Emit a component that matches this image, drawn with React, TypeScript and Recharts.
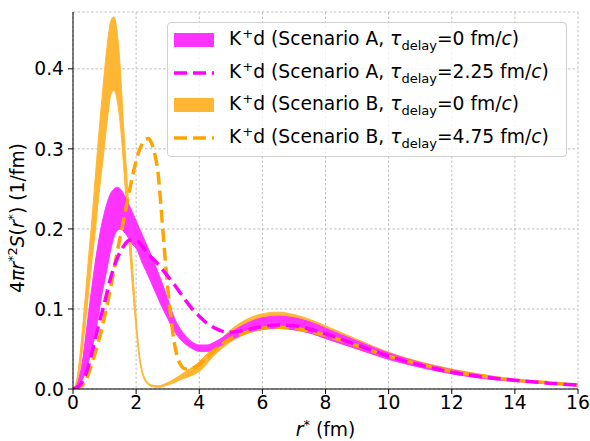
import React from "react";
import { ComposedChart, Area, Line, XAxis, YAxis, CartesianGrid } from "recharts";

const xTicks = [0, 2, 4, 6, 8, 10, 12, 14, 16];
const yTicks = [0, 0.1, 0.2, 0.3, 0.4];

// Scenario A, tau_delay = 0 (band)
const bandAX = [
  0, 0.1, 0.2, 0.3, 0.4, 0.5, 0.6, 0.7, 0.8, 0.9, 1.0, 1.1, 1.2, 1.3, 1.4, 1.5, 1.6, 1.7, 1.8, 1.9, 2.0,
  2.2, 2.4, 2.6, 2.8, 3.0, 3.2, 3.4, 3.6, 3.8, 4.0, 4.25, 4.5, 5, 5.5, 6, 6.5, 7, 7.5, 8, 9, 10, 11, 12, 13, 14, 15, 16,
];
const bandAHigh = [
  0, 0.003, 0.015, 0.035, 0.065, 0.097, 0.128, 0.157, 0.182, 0.204, 0.221, 0.235, 0.245, 0.25, 0.252, 0.25, 0.244, 0.236, 0.228, 0.219, 0.21,
  0.192, 0.174, 0.155, 0.135, 0.113, 0.09, 0.075, 0.065, 0.058, 0.055, 0.055, 0.059, 0.071, 0.082, 0.089, 0.091, 0.089, 0.084, 0.076, 0.06, 0.045, 0.033, 0.024, 0.017, 0.012, 0.008, 0.0055,
];
const bandALow = [
  0, 0.001, 0.005, 0.012, 0.022, 0.035, 0.05, 0.068, 0.09, 0.115, 0.135, 0.155, 0.175, 0.19, 0.198, 0.2, 0.197, 0.192, 0.186, 0.18, 0.176,
  0.157, 0.14, 0.122, 0.104, 0.088, 0.073, 0.062, 0.055, 0.05, 0.047, 0.047, 0.051, 0.061, 0.07, 0.075, 0.076, 0.074, 0.07, 0.063, 0.05, 0.037, 0.027, 0.019, 0.013, 0.0095, 0.0065, 0.004,
];

// Scenario B, tau_delay = 0 (band)
const bandBX = [
  0, 0.1, 0.2, 0.3, 0.4, 0.5, 0.6, 0.7, 0.8, 0.9, 1.0, 1.1, 1.2, 1.3, 1.4, 1.5, 1.6, 1.7, 1.8, 1.9, 2.0, 2.1, 2.2, 2.3, 2.4, 2.5,
  2.7, 3.0, 3.5, 4, 4.5, 5, 5.5, 6, 6.5, 7, 7.5, 8, 9, 10, 11, 12, 13, 14, 15, 16,
];
const bandBHigh = [
  0, 0.008, 0.035, 0.075, 0.12, 0.168, 0.212, 0.262, 0.31, 0.355, 0.398, 0.435, 0.46, 0.465, 0.445, 0.4, 0.33, 0.27, 0.205, 0.145, 0.09, 0.045, 0.022, 0.012, 0.007, 0.005,
  0.004, 0.008, 0.02, 0.034, 0.055, 0.074, 0.087, 0.094, 0.096, 0.093, 0.087, 0.079, 0.062, 0.046, 0.034, 0.025, 0.018, 0.012, 0.008, 0.006,
];
const bandBLow = [
  0, 0.004, 0.02, 0.05, 0.085, 0.122, 0.16, 0.195, 0.235, 0.27, 0.305, 0.34, 0.368, 0.373, 0.36, 0.33, 0.28, 0.225, 0.17, 0.12, 0.075, 0.038, 0.018, 0.009, 0.005, 0.003,
  0.002, 0.005, 0.013, 0.022, 0.043, 0.059, 0.069, 0.074, 0.076, 0.074, 0.07, 0.064, 0.051, 0.038, 0.028, 0.02, 0.014, 0.01, 0.007, 0.004,
];

// Scenario A, tau_delay = 2.25 fm/c (dashed)
const lineAX = [
  0, 0.2, 0.4, 0.6, 0.8, 1.0, 1.2, 1.4, 1.6, 1.8, 2.0, 2.2, 2.4, 2.6, 2.8, 3.0, 3.2, 3.4, 3.6, 3.8, 4.0,
  4.25, 4.5, 4.75, 5, 5.5, 6, 6.5, 7, 7.5, 8, 9, 10, 11, 12, 13, 14, 15, 16,
];
const lineAY = [
  0, 0.004, 0.018, 0.045, 0.078, 0.108, 0.14, 0.163, 0.178, 0.186, 0.186, 0.178, 0.168, 0.16, 0.151, 0.141, 0.131, 0.12, 0.109, 0.099, 0.091,
  0.082, 0.076, 0.072, 0.071, 0.074, 0.078, 0.08, 0.079, 0.075, 0.069, 0.055, 0.041, 0.03, 0.021, 0.015, 0.011, 0.0075, 0.005,
];

// Scenario B, tau_delay = 4.75 fm/c (dashed)
const lineBX = [
  0, 0.2, 0.4, 0.6, 0.8, 1.0, 1.2, 1.4, 1.6, 1.8, 2.0, 2.1, 2.2, 2.3, 2.4, 2.5, 2.6, 2.7, 2.8, 2.9, 3.0, 3.1, 3.2, 3.3, 3.4, 3.5, 3.6, 3.8, 4.0,
  4.25, 4.5, 4.75, 5, 5.5, 6, 6.5, 7, 7.5, 8, 9, 10, 11, 12, 13, 14, 15, 16,
];
const lineBY = [
  0, 0.002, 0.01, 0.032, 0.058, 0.09, 0.128, 0.171, 0.21, 0.25, 0.285, 0.298, 0.307, 0.312, 0.313, 0.306, 0.292, 0.268, 0.222, 0.172, 0.128, 0.09, 0.06, 0.041, 0.031, 0.026, 0.025, 0.026, 0.031,
  0.04, 0.049, 0.057, 0.063, 0.071, 0.076, 0.077, 0.076, 0.072, 0.067, 0.054, 0.041, 0.031, 0.022, 0.016, 0.011, 0.008, 0.005,
];

const toBand = (xs: number[], lo: number[], hi: number[]) =>
  xs.map((r, i) => ({ r, band: [lo[i], hi[i]] }));
const toLine = (xs: number[], ys: number[]) => xs.map((r, i) => ({ r, v: ys[i] }));

const MAGENTA = "#ff00ff";
const ORANGE = "#ffa500";
const MAGENTA_FILL = "#ff33ff";
const ORANGE_FILL = "#ffb733";
const FONT = "DejaVu Sans";
const FS = 18.7;
const SUP = 13;

const XLabel = (props: any) => {
  const vb = props.viewBox || { x: 73, y: 389, width: 505 };
  const cx = vb.x + vb.width / 2;
  return (
    <text x={cx} y={436} textAnchor="middle" fontSize={FS} fontFamily={FONT} fill="#000">
      <tspan fontStyle="italic">r</tspan>
      <tspan dy={-7} fontSize={SUP}>*</tspan>
      <tspan dy={7}>{"  (fm)"}</tspan>
    </text>
  );
};

const YLabel = () => {
  const x = 24;
  const y = 218;
  return (
    <text x={x} y={y} transform={`rotate(-90, ${x}, ${y})`} textAnchor="middle" fontSize={FS} fontFamily={FONT} fill="#000">
      <tspan>4</tspan>
      <tspan fontStyle="italic">πr</tspan>
      <tspan dy={-7} fontSize={SUP}>*2</tspan>
      <tspan dy={7} fontStyle="italic">S</tspan>
      <tspan>(</tspan>
      <tspan fontStyle="italic">r</tspan>
      <tspan dy={-7} fontSize={SUP}>*</tspan>
      <tspan dy={7}>{") (1/fm)"}</tspan>
    </text>
  );
};

const legendItems = [
  { scen: "A", tau: "0", color: MAGENTA_FILL, dashed: false },
  { scen: "A", tau: "2.25", color: MAGENTA, dashed: true },
  { scen: "B", tau: "0", color: ORANGE_FILL, dashed: false },
  { scen: "B", tau: "4.75", color: ORANGE, dashed: true },
];

const Legend = () => (
  <div
    style={{
      position: "absolute",
      left: 167,
      top: 22,
      width: 400,
      height: 135,
      boxSizing: "border-box",
      border: "1px solid #d0d0d0",
      borderRadius: 4,
      background: "rgba(255,255,255,0.8)",
      fontFamily: FONT,
      fontSize: FS,
      color: "#000",
    }}
  >
    {legendItems.map((it, i) => (
      <div
        key={i}
        style={{ position: "absolute", left: 6, top: 5 + i * 32.7, height: 24, display: "flex", alignItems: "center", whiteSpace: "nowrap" }}
      >
        <svg width={40} height={24}>
          {it.dashed ? (
            <line x1={0} y1={12} x2={40} y2={12} stroke={it.color} strokeWidth={3.5} strokeDasharray="13 6" />
          ) : (
            <rect x={0} y={5} width={40} height={14} fill={it.color} />
          )}
        </svg>
        <span style={{ marginLeft: 15, lineHeight: "24px" }}>
          K<sup style={{ fontSize: SUP, verticalAlign: 7, marginLeft: 1 }}>+</sup>
          {"d (Scenario " + it.scen + ", "}
          <i>τ</i>
          <sub style={{ fontSize: SUP, verticalAlign: -5 }}>delay</sub>
          {"=" + it.tau + " fm/"}
          <i>c</i>)
        </span>
      </div>
    ))}
  </div>
);

export default function App() {
  const tickStyle = { fontSize: FS, fill: "#000", fontFamily: FONT };
  return (
    <div style={{ position: "absolute", left: 0, top: 0, width: 590, height: 441, background: "#fff" }}>
      <ComposedChart width={590} height={441} margin={{ top: 12, right: 12, bottom: 0, left: 0 }}>
        <CartesianGrid stroke="#b0b0b0" strokeDasharray="2.5 2" strokeWidth={0.8} />
        <XAxis
          dataKey="r"
          type="number"
          domain={[0, 16]}
          ticks={xTicks}
          allowDataOverflow
          height={52}
          tick={tickStyle}
          tickSize={5}
          tickMargin={2}
          tickLine={{ stroke: "#000" }}
          axisLine={{ stroke: "#000" }}
          label={<XLabel />}
        />
        <XAxis xAxisId="top" orientation="top" type="number" domain={[0, 16]} height={0} tick={false} tickLine={false} axisLine={{ stroke: "#000" }} />
        <YAxis
          type="number"
          domain={[0, 0.471]}
          ticks={yTicks}
          allowDataOverflow
          width={73}
          tick={tickStyle}
          tickSize={5}
          tickMargin={4}
          tickFormatter={(v: number) => v.toFixed(1)}
          tickLine={{ stroke: "#000" }}
          axisLine={{ stroke: "#000" }}
          label={<YLabel />}
        />
        <YAxis yAxisId="right" orientation="right" type="number" domain={[0, 0.471]} width={0} tick={false} tickLine={false} axisLine={{ stroke: "#000" }} />
        <Area
          data={toBand(bandBX, bandBLow, bandBHigh)}
          dataKey="band"
          type="monotone"
          fill={ORANGE_FILL}
          fillOpacity={1}
          stroke={ORANGE_FILL}
          strokeWidth={1}
          isAnimationActive={false}
        />
        <Area
          data={toBand(bandAX, bandALow, bandAHigh)}
          dataKey="band"
          type="monotone"
          fill={MAGENTA_FILL}
          fillOpacity={1}
          stroke={MAGENTA_FILL}
          strokeWidth={1}
          isAnimationActive={false}
        />
        <Line
          data={toLine(lineBX, lineBY)}
          dataKey="v"
          type="monotone"
          stroke={ORANGE}
          strokeWidth={3.5}
          strokeDasharray="13 6"
          dot={false}
          isAnimationActive={false}
        />
        <Line
          data={toLine(lineAX, lineAY)}
          dataKey="v"
          type="monotone"
          stroke={MAGENTA}
          strokeWidth={3.5}
          strokeDasharray="13 6"
          dot={false}
          isAnimationActive={false}
        />
      </ComposedChart>
      <Legend />
    </div>
  );
}
